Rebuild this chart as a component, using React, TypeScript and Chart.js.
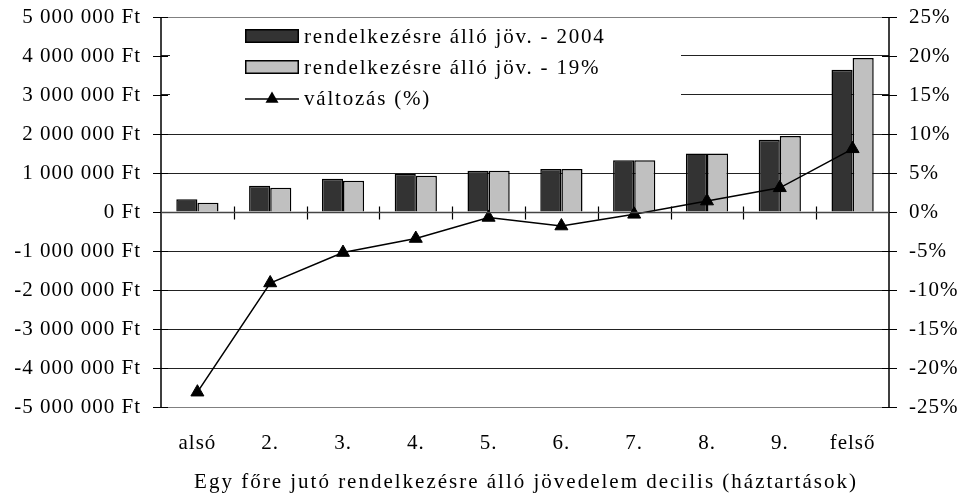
import React, { useEffect, useRef } from 'react';
import { Chart, registerables } from 'chart.js';

Chart.register(...registerables);

const categories = ['alsó', '2.', '3.', '4.', '5.', '6.', '7.', '8.', '9.', 'felső'];
const income2004 = [330000, 670000, 850000, 980000, 1060000, 1100000, 1330000, 1500000, 1850000, 3650000];
const income19 = [240000, 620000, 800000, 930000, 1060000, 1100000, 1330000, 1500000, 1950000, 3950000];
const changePct = [-23.1, -9.1, -5.2, -3.4, -0.7, -1.8, -0.3, 1.4, 3.1, 8.1];
const seriesLabels = ['rendelkezésre álló jöv. - 2004', 'rendelkezésre álló jöv. - 19%', 'változás (%)'];
const xTitle = 'Egy főre jutó rendelkezésre álló jövedelem decilis (háztartások)';

const FONT = "'Liberation Serif', 'Times New Roman', serif";

function fmtFt(v: number): string {
  const neg = v < 0;
  const s = Math.round(Math.abs(v)).toString().replace(/\B(?=(\d{3})+(?!\d))/g, ' ');
  return (neg ? '-' : '') + s + ' Ft';
}

const spacingPlugin = {
  id: 'spacing',
  beforeUpdate(chart: any) {
    chart.ctx.letterSpacing = '1px';
  },
  beforeDraw(chart: any) {
    chart.ctx.letterSpacing = '1px';
  },
};

const legendPlugin = {
  id: 'boxLegend',
  beforeDatasetsDraw(chart: any) {
    const ctx = chart.ctx;
    const ds = chart.data.datasets;
    ctx.save();
    ctx.fillStyle = '#ffffff';
    ctx.fillRect(170, 19, 511, 104);
    ctx.font = `21px ${FONT}`;
    ctx.letterSpacing = '1.8px';
    ctx.textBaseline = 'alphabetic';
    ctx.textAlign = 'left';
    const rows = [
      { y: 29, h: 14, base: 43, d: ds[0] },
      { y: 60, h: 14, base: 74, d: ds[1] },
    ];
    rows.forEach((r) => {
      ctx.fillStyle = r.d.backgroundColor;
      ctx.fillRect(245, r.y, 54, r.h);
      ctx.lineWidth = 1.5;
      ctx.strokeStyle = '#000';
      ctx.strokeRect(245.75, r.y + 0.75, 52.5, r.h - 1.5);
      ctx.fillStyle = '#000';
      ctx.fillText(r.d.label, 304, r.base);
    });
    ctx.strokeStyle = '#000';
    ctx.lineWidth = 1.5;
    ctx.beginPath();
    ctx.moveTo(245, 99);
    ctx.lineTo(299, 99);
    ctx.stroke();
    const cx = 272, cy = 99, rr = 7.5;
    ctx.fillStyle = '#000';
    ctx.beginPath();
    ctx.moveTo(cx, cy - rr);
    ctx.lineTo(cx + rr * 0.866, cy + rr / 2);
    ctx.lineTo(cx - rr * 0.866, cy + rr / 2);
    ctx.closePath();
    ctx.fill();
    ctx.fillText(ds[2].label, 304, 105);
    ctx.restore();
  },
};

const axesPlugin = {
  id: 'excelAxes',
  afterDatasetsDraw(chart: any) {
    const ctx = chart.ctx;
    const { left, right, top, bottom } = chart.chartArea;
    const y = chart.scales.y;
    const y1 = chart.scales.y1;
    const x = chart.scales.x;
    ctx.save();
    ctx.strokeStyle = '#000';
    ctx.lineWidth = 1.5;
    ctx.beginPath();
    ctx.moveTo(left, top);
    ctx.lineTo(left, bottom);
    ctx.moveTo(right, top);
    ctx.lineTo(right, bottom);
    ctx.stroke();
    ctx.lineWidth = 1.2;
    ctx.beginPath();
    y.ticks.forEach((t: any) => {
      const py = Math.round(y.getPixelForValue(t.value)) + 0.5;
      ctx.moveTo(left - 8, py);
      ctx.lineTo(left + 7, py);
    });
    y1.ticks.forEach((t: any) => {
      const py = Math.round(y1.getPixelForValue(t.value)) + 0.5;
      ctx.moveTo(right - 7, py);
      ctx.lineTo(right + 8, py);
    });
    const zeroY = Math.round(y.getPixelForValue(0)) + 0.5;
    const n = chart.data.labels.length;
    for (let i = 1; i < n; i++) {
      const px = Math.round((x.getPixelForValue(i - 1) + x.getPixelForValue(i)) / 2) + 0.5;
      ctx.moveTo(px, zeroY - 6);
      ctx.lineTo(px, zeroY + 7);
    }
    ctx.stroke();
    ctx.strokeStyle = '#444';
    ctx.lineWidth = 1.5;
    ctx.beginPath();
    ctx.moveTo(left, zeroY);
    ctx.lineTo(right, zeroY);
    ctx.stroke();
    ctx.font = `21px ${FONT}`;
    ctx.letterSpacing = '2px';
    ctx.fillStyle = '#000';
    ctx.textAlign = 'center';
    ctx.textBaseline = 'alphabetic';
    ctx.fillText(xTitle, (left + right) / 2 + 1, 488);
    ctx.restore();
  },
};

export default function App() {
  const ref = useRef<HTMLCanvasElement>(null);
  useEffect(() => {
    if (!ref.current) return;
    Chart.defaults.font.family = FONT;
    Chart.defaults.font.size = 21;
    Chart.defaults.color = '#000';
    const chart = new Chart(ref.current, {
      type: 'bar',
      data: {
        labels: categories,
        datasets: [
          {
            type: 'bar',
            label: seriesLabels[0],
            data: income2004,
            backgroundColor: '#333333',
            borderColor: '#000',
            borderWidth: 1.5,
            yAxisID: 'y',
            barPercentage: 1,
            categoryPercentage: 0.58,
            order: 2,
          },
          {
            type: 'bar',
            label: seriesLabels[1],
            data: income19,
            backgroundColor: '#c0c0c0',
            borderColor: '#000',
            borderWidth: 1.5,
            yAxisID: 'y',
            barPercentage: 1,
            categoryPercentage: 0.58,
            order: 2,
          },
          {
            type: 'line',
            label: seriesLabels[2],
            data: changePct,
            borderColor: '#000',
            borderWidth: 1.5,
            backgroundColor: '#000',
            pointStyle: 'triangle',
            pointRadius: 7.5,
            pointBorderWidth: 1,
            pointBackgroundColor: '#000',
            pointBorderColor: '#000',
            yAxisID: 'y1',
            order: 1,
          } as any,
        ],
      },
      options: {
        animation: false,
        responsive: false,
        maintainAspectRatio: false,
        layout: { padding: { top: 17, left: 0, right: 0, bottom: 0 } },
        plugins: {
          legend: { display: false },
          tooltip: { enabled: false },
        },
        scales: {
          x: {
            grid: { display: false, drawTicks: false },
            border: { display: false },
            ticks: { padding: 24, font: { size: 21 } },
            title: { display: false, text: xTitle },
            afterFit: (s: any) => { s.height = 87; s.paddingLeft = 0; s.paddingRight = 0; },
          },
          y: {
            position: 'left',
            min: -5000000,
            max: 5000000,
            ticks: { stepSize: 1000000, padding: 20, callback: (v: any) => fmtFt(Number(v)) },
            grid: {
              drawTicks: false,
              lineWidth: 1,
              color: (c: any) => (Math.abs(c.tick.value) === 5000000 ? '#808080' : '#222'),
            },
            border: { display: false },
            afterFit: (s: any) => { s.width = 161; s.paddingTop = 0; s.paddingBottom = 0; },
          },
          y1: {
            position: 'right',
            min: -25,
            max: 25,
            ticks: { stepSize: 5, padding: 20, callback: (v: any) => `${v}%` },
            grid: { display: false, drawTicks: false },
            border: { display: false },
            afterFit: (s: any) => { s.width = 71; s.paddingTop = 0; s.paddingBottom = 0; },
          },
        },
      },
      plugins: [spacingPlugin, legendPlugin, axesPlugin],
    });
    return () => chart.destroy();
  }, []);
  return (
    <div style={{ position: 'absolute', left: 0, top: 0, width: 960, height: 494, background: '#fff' }}>
      <canvas ref={ref} width={960} height={494} style={{ width: 960, height: 494, display: 'block' }} />
    </div>
  );
}
